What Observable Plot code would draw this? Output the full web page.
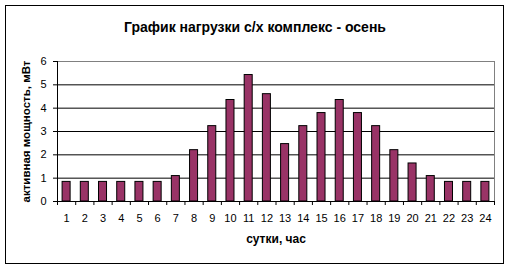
<!DOCTYPE html>
<html>
<head>
<meta charset="utf-8">
<script src="https://cdn.jsdelivr.net/npm/d3@7"></script>
<script src="https://cdn.jsdelivr.net/npm/@observablehq/plot@0.6"></script>
<style>
  body { margin: 0; background: #fff; }
  #wrap { position: relative; width: 510px; height: 269px; }
  #border { position: absolute; left: 5px; top: 5px; width: 499px; height: 259px; border: 1px solid #000; box-sizing: border-box; pointer-events: none; }
  svg { font-family: "Liberation Sans", Arial, sans-serif; }
</style>
</head>
<body>
<div id="wrap"><div id="border"></div></div>
<script>
const title = "График нагрузки с/х комплекс - осень";
const yLabel = "активная мощность, мВт";
const xLabel = "сутки, час";
const hours = [1,2,3,4,5,6,7,8,9,10,11,12,13,14,15,16,17,18,19,20,21,22,23,24];
const power = [0.84,0.84,0.84,0.84,0.84,0.84,1.09,2.2,3.23,4.35,5.42,4.6,2.46,3.23,3.79,4.35,3.79,3.23,2.2,1.63,1.09,0.84,0.84,0.84];
const yTicks = [0,1,2,3,4,5,6];

const data = hours.map((h, i) => ({h, v: power[i]}));
const halfBar = 0.22;
const boundaries = d3.range(hours[0] - 0.5, hours[hours.length - 1] + 1, 1);

const chart = Plot.plot({
  width: 510,
  height: 269,
  marginLeft: 57,
  marginRight: 16,
  marginTop: 61,
  marginBottom: 68,
  style: {fontFamily: '"Liberation Sans", Arial, sans-serif', fontSize: "11px", color: "#000", background: "transparent"},
  x: {domain: [hours[0] - 0.5, hours[hours.length - 1] + 0.5], axis: null},
  y: {domain: [0, 6], axis: null},
  marks: [
    Plot.frame({stroke: "#808080"}),
    Plot.ruleY(yTicks.filter(t => t > 0 && t < 6), {stroke: "#000", strokeWidth: 1}),
    Plot.rectY(data, {x1: d => d.h - halfBar, x2: d => d.h + halfBar, y: "v", fill: "#993366", stroke: "#000", strokeWidth: 1}),
    Plot.ruleY([0], {stroke: "#000"}),
    Plot.ruleX([boundaries[0]], {stroke: "#000"}),
    Plot.axisY({ticks: yTicks, tickSize: 4, tickPadding: 7, label: null, tickFormat: d => String(d), fontSize: 11}),
    Plot.axisX({ticks: boundaries, tickSize: 4, tickFormat: () => "", label: null}),
    Plot.axisX({ticks: hours, tickSize: 0, tickPadding: 13, tickFormat: d => String(d), label: null, fontSize: 11}),
    Plot.text([title], {frameAnchor: "top", dx: -21, dy: -39, fontWeight: "bold", fontSize: 14}),
    Plot.text([yLabel], {frameAnchor: "left", textAnchor: "middle", dx: -31, rotate: -90, fontWeight: "bold", fontSize: 11.5}),
    Plot.text([xLabel], {frameAnchor: "bottom", dy: 41, fontWeight: "bold", fontSize: 12})
  ]
});
document.getElementById("wrap").prepend(chart);
</script>
</body>
</html>
